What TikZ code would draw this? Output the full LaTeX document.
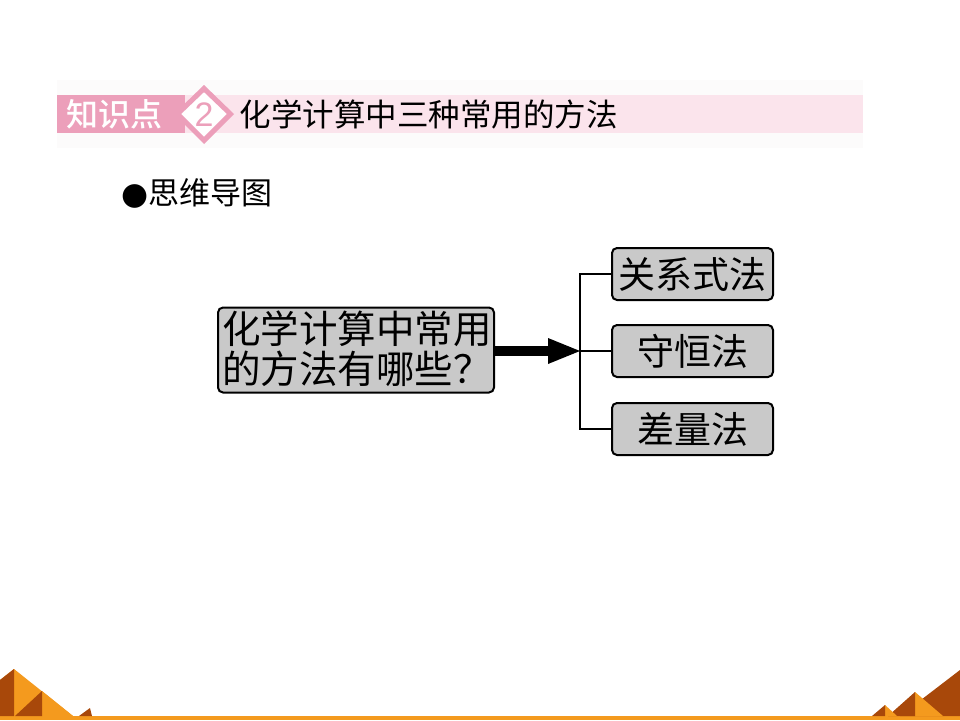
\documentclass[tikz,border=0pt]{standalone}
\usepackage{fontspec}
\newfontfamily\cjk{Noto Sans CJK SC}
\newfontfamily\cjkb{Noto Sans CJK SC Medium}
\usetikzlibrary{arrows.meta}
\definecolor{dpink}{HTML}{EC9FBA}
\definecolor{lpink}{HTML}{FBE4EC}
\definecolor{offw}{HTML}{FCFBFB}
\definecolor{org}{HTML}{F49A1E}
\definecolor{brn}{HTML}{A8480A}
\definecolor{boxg}{HTML}{C9C9C9}
\tikzset{
  gbox/.style={draw=black, line width=2pt, fill=boxg, rounded corners=5pt, inner sep=0pt},
  btxt/.style={font=\cjk\fontsize{37}{40}\selectfont, text=black},
  link/.style={draw=black, line width=2pt},
}
\begin{document}
\begin{tikzpicture}[x=1pt,y=-1pt]
\useasboundingbox (0,0) rectangle (960,720);
\fill[white] (0,0) rectangle (960,720);
% header
\fill[offw] (57,80) rectangle (863,148);
\fill[lpink] (57,95) rectangle (863,133);
\fill[dpink] (57,95) rectangle (185,133);
\node[font=\cjkb\fontsize{32}{32}\selectfont, text=white, anchor=west] (kp) at (63,114) {知识点};
\fill[dpink] (204,85) -- (234,114) -- (204,144) -- (174,114) -- cycle;
\filldraw[fill=white, draw=dpink, line width=1.5pt] (204,91) -- (228,114) -- (204,138) -- (180,114) -- cycle;
\node[font=\fontspec{Liberation Sans}\fontsize{34}{34}\selectfont, text=dpink] (num) at (204,115) {2};
\node[font=\cjk\fontsize{31.5}{32}\selectfont, anchor=west] (title) at (236,114) {化学计算中三种常用的方法};
% subtitle
\node[font=\cjk\fontsize{31}{31}\selectfont, anchor=west, inner sep=0pt] (sub) at (121,193) {\fontspec{DejaVu Sans}●\cjk 思维导图};
% main box
\node[gbox, minimum width=276pt, minimum height=85pt] (main) at (356,350) {};
\node[btxt, font=\cjk\fontsize{38.5}{40}\selectfont, align=left, anchor=center] (maintxt) at (357,349) {化学计算中常用\\的方法有哪些？};
% arrow
\coordinate (hub) at (580,351);
\fill[black] (main.east |- 0,346) rectangle (550,356);
\fill[black] (548,338) -- (580,351) -- (548,364) -- cycle;
% right boxes
\node[gbox, minimum width=161pt, minimum height=52pt] (b1) at (692.5,274) {};
\node[btxt] (t1) at (b1) {关系式法};
\node[gbox, minimum width=161pt, minimum height=52pt] (b2) at (692.5,351) {};
\node[btxt] (t2) at (b2) {守恒法};
\node[gbox, minimum width=161pt, minimum height=52pt] (b3) at (692.5,429) {};
\node[btxt] (t3) at (b3) {差量法};
\draw[link] (b1.west) -| (hub) |- (b3.west);
\draw[link] (hub) -- (b2.west);
% bottom decoration
\fill[org] (0,716) rectangle (960,720);
\fill[org] (14,669) -- (73,716) -- (0,716) -- (0,680) -- cycle;
\fill[brn] (14,669) -- (14,716) -- (0,716) -- (0,680) -- cycle;
\fill[org] (42,691) -- (73,716) -- (15,716) -- cycle;
\fill[brn] (42,691) -- (42,716) -- (15,716) -- cycle;
\fill[brn] (90,708) -- (92,716) -- (79,716) -- cycle;
\fill[brn] (960,670) -- (960,716) -- (900,716) -- cycle;
\fill[org] (915,692) -- (943,716) -- (915,716) -- cycle;
\fill[brn] (915,692) -- (915,716) -- (888,716) -- cycle;
\fill[org] (885,705) -- (897,716) -- (885,716) -- cycle;
\fill[brn] (885,705) -- (885,716) -- (872,716) -- cycle;
\end{tikzpicture}
\end{document}
